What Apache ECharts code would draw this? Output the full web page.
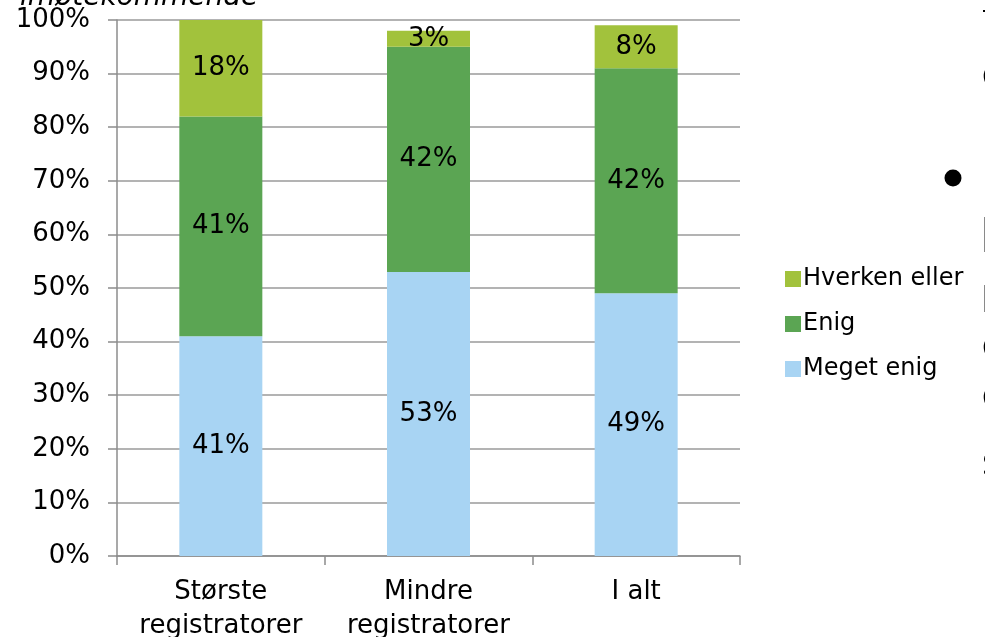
<!DOCTYPE html>
<html>
<head>
<meta charset="utf-8">
<script src="https://cdn.jsdelivr.net/npm/echarts@6/dist/echarts.min.js"></script>
<style>
  html, body { margin: 0; padding: 0; background: #ffffff; }
  #chart { width: 985px; height: 637px; }
</style>
</head>
<body>
<div id="chart"></div>
<script>
// Survey answers per registrator group (percent)
const categories = ['Største\nregistratorer', 'Mindre\nregistratorer', 'I alt'];
const megetEnig = [41, 53, 49];
const enig = [41, 42, 42];
const hverkenEller = [18, 3, 8];
const yTicks = [0, 10, 20, 30, 40, 50, 60, 70, 80, 90, 100];

const FONT = '"DejaVu Sans", Verdana, sans-serif';
const colors = { meget: '#A8D4F3', enig: '#5BA553', hverken: '#A2C23C' };
const axisGrey = '#8c8c8c';

const chart = echarts.init(document.getElementById('chart'), null, { renderer: 'canvas' });

function barSeries(name, data, color) {
  return {
    name: name,
    type: 'bar',
    stack: 'total',
    data: data,
    barWidth: 83,
    itemStyle: { color: color },
    label: {
      show: true,
      position: 'inside',
      formatter: p => p.value + '%',
      color: '#000',
      fontFamily: FONT,
      fontSize: 26
    },
    emphasis: { disabled: true }
  };
}

chart.setOption({
  animation: false,
  textStyle: { fontFamily: FONT },
  grid: { left: 117, right: 245, top: 20, bottom: 81, containLabel: false, outerBoundsMode: 'none' },
  legend: {
    orient: 'vertical',
    left: 780,
    top: 262,
    itemWidth: 16,
    itemHeight: 16,
    itemGap: 21,
    icon: 'rect',
    data: ['Hverken eller', 'Enig', 'Meget enig'],
    textStyle: { fontFamily: FONT, fontSize: 24, color: '#000', padding: [0, 0, 0, -3] }
  },
  xAxis: {
    type: 'category',
    data: categories,
    axisLine: { lineStyle: { color: axisGrey, width: 1.5 } },
    axisTick: { show: true, interval: 0, length: 9, alignWithLabel: false, lineStyle: { color: axisGrey, width: 1.5 } },
    axisLabel: { interval: 0, hideOverlap: false, color: '#000', fontFamily: FONT, fontSize: 26, lineHeight: 34, margin: 19 }
  },
  yAxis: {
    type: 'value',
    min: yTicks[0],
    max: yTicks[yTicks.length - 1],
    interval: 10,
    axisLine: { show: true, lineStyle: { color: axisGrey, width: 1.5 } },
    axisTick: { show: true, length: 9, lineStyle: { color: axisGrey, width: 1.5 } },
    splitLine: { show: true, lineStyle: { color: '#9a9a9a', width: 1.5 } },
    axisLabel: { color: '#000', fontFamily: FONT, fontSize: 26, margin: 27, formatter: v => v + '%' }
  },
  series: [
    barSeries('Meget enig', megetEnig, colors.meget),
    barSeries('Enig', enig, colors.enig),
    barSeries('Hverken eller', hverkenEller, colors.hverken)
  ],
  graphic: [
    // slide heading above the chart, cut by the top edge
    { type: 'text', x: 20, y: 12, style: { text: 'imøtekommende', font: 'italic 28px ' + FONT, fill: '#000', verticalAlign: 'bottom' } },
    // neighbouring slide text, cut by the right edge
    { type: 'circle', shape: { cx: 953, cy: 178, r: 8.5 }, style: { fill: '#000' } },
    { type: 'text', left: 982, top: 64, style: { text: 'C', font: '30px ' + FONT, fill: '#000' } },
    { type: 'text', left: 982, top: 335, style: { text: 'C', font: '30px ' + FONT, fill: '#000' } },
    { type: 'text', left: 982, top: 385, style: { text: 'C', font: '30px ' + FONT, fill: '#000' } },
    { type: 'text', left: 982, top: 452, style: { text: 'S', font: '30px ' + FONT, fill: '#000' } },
    { type: 'line', shape: { x1: 984.5, y1: 217, x2: 984.5, y2: 252 }, style: { stroke: '#8a8a8a', lineWidth: 1 } },
    { type: 'line', shape: { x1: 984.5, y1: 285, x2: 984.5, y2: 312 }, style: { stroke: '#8a8a8a', lineWidth: 1 } },
    { type: 'line', shape: { x1: 983, y1: 11, x2: 985, y2: 11 }, style: { stroke: '#000', lineWidth: 2 } }
  ]
});
</script>
</body>
</html>
